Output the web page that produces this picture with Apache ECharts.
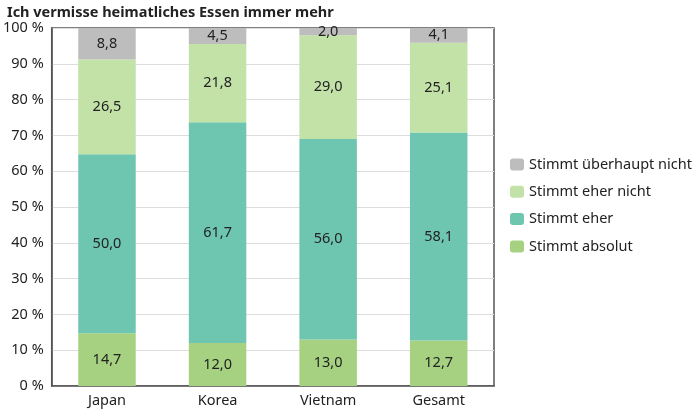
<!DOCTYPE html>
<html>
<head>
<meta charset="utf-8">
<script src="https://cdn.jsdelivr.net/npm/echarts@6/dist/echarts.min.js"></script>
<style>
  html, body { margin: 0; padding: 0; background: #fff; }
  #chart { width: 692px; height: 413px; }
</style>
</head>
<body>
<div id="chart"></div>
<script>
// Daten
var categories = ['Japan', 'Korea', 'Vietnam', 'Gesamt'];
var absolut = [14.7, 12.0, 13.0, 12.7];
var eher = [50.0, 61.7, 56.0, 58.1];
var eherNicht = [26.5, 21.8, 29.0, 25.1];
var ueberhauptNicht = [8.8, 4.5, 2.0, 4.1];

var font = 'Noto Sans';

function fmt(p) {
    return p.value.toFixed(1).replace('.', ',');
}

function serie(name, data, color) {
    return {
        name: name,
        type: 'bar',
        stack: 'total',
        barWidth: '52%',
        data: data,
        itemStyle: { color: color },
        label: {
            show: true,
            position: 'inside',
            formatter: fmt,
            color: '#222',
            fontFamily: font,
            fontSize: 14.5
        }
    };
}

var myChart = echarts.init(document.getElementById('chart'), null, {
    renderer: 'canvas'
});

var option = {
    animation: false,
    title: {
        text: 'Ich vermisse heimatliches Essen immer mehr',
        left: 2,
        top: 0,
        textStyle: {
            fontFamily: font,
            fontSize: 14.5,
            fontWeight: 'bold',
            color: '#222'
        }
    },
    legend: {
        orient: 'vertical',
        left: 505,
        top: 152,
        itemWidth: 14,
        itemHeight: 12,
        itemGap: 12.3,
        data: ['Stimmt überhaupt nicht', 'Stimmt eher nicht', 'Stimmt eher', 'Stimmt absolut'],
        textStyle: { fontFamily: font, fontSize: 14.5, color: '#222' }
    },
    grid: {
        left: 49,
        right: 198,
        top: 28,
        bottom: 27,
        show: true,
        borderColor: '#555',
        borderWidth: 1.5
    },
    xAxis: {
        type: 'category',
        data: categories,
        axisLine: { lineStyle: { color: '#555', width: 1.5 } },
        axisTick: { show: false },
        axisLabel: { fontFamily: font, fontSize: 14.5, color: '#222', margin: 7 }
    },
    yAxis: {
        type: 'value',
        min: 0,
        max: 100,
        interval: 10,
        axisLine: { show: true, lineStyle: { color: '#555', width: 1.5 } },
        axisTick: { show: false },
        splitLine: { lineStyle: { color: '#ddd' } },
        axisLabel: {
            fontFamily: font,
            fontSize: 14.5,
            color: '#222',
            margin: 8,
            formatter: '{value} %'
        }
    },
    series: [
        serie('Stimmt absolut', absolut, '#a5d181'),
        serie('Stimmt eher', eher, '#6ec6b0'),
        serie('Stimmt eher nicht', eherNicht, '#c2e2a8'),
        serie('Stimmt überhaupt nicht', ueberhauptNicht, '#bdbdbd')
    ]
};

myChart.setOption(option);
window.addEventListener('resize', myChart.resize);
</script>
</body>
</html>
